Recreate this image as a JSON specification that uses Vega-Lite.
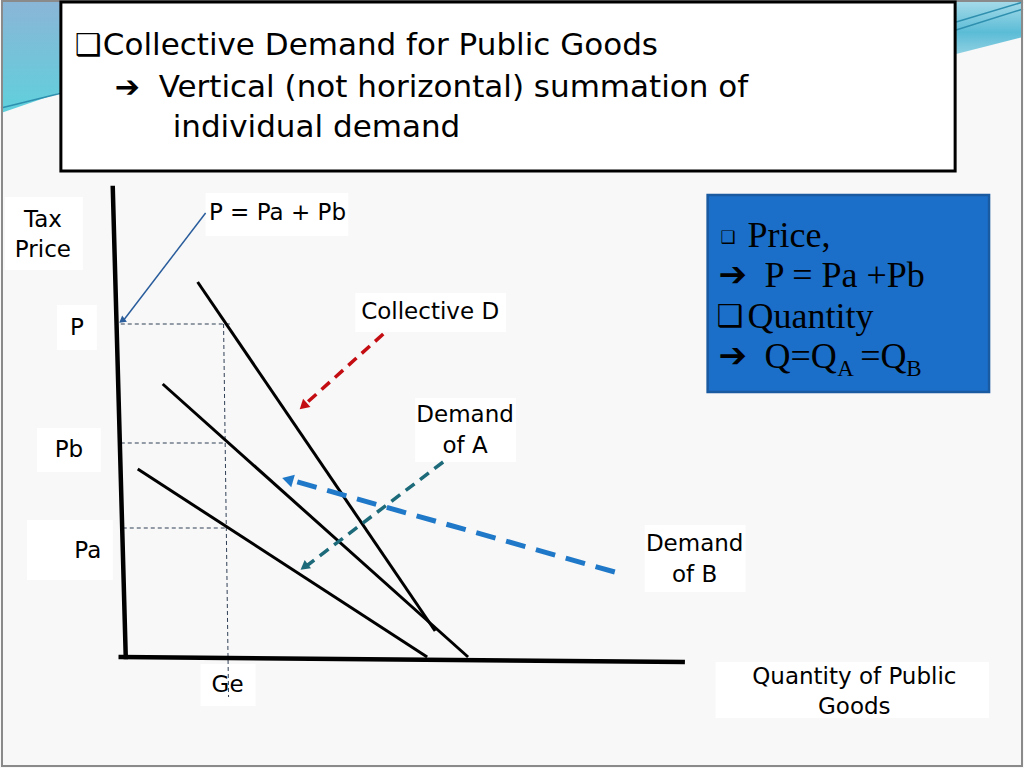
{
  "$schema": "https://vega.github.io/schema/vega-lite/v6.json",
  "width": 1024,
  "height": 768,
  "autosize": {"type": "fit", "contains": "padding"},
  "padding": 0,
  "background": "#f8f8f8",
  "config": {"view": {"stroke": null}},
  "datasets": {
    "decoTL": [{"x": 0, "y": 0, "y2": 113}, {"x": 61, "y": 0, "y2": 92}],
    "decoTR": [{"x": 957, "y": 0, "y2": 54}, {"x": 1024, "y": 0, "y2": 37}],
    "decoLines": [
      {"x": 957, "y": 22, "x2": 1024, "y2": 2},
      {"x": 957, "y": 30, "x2": 1024, "y2": 9},
      {"x": 0, "y": 108, "x2": 61, "y2": 93}
    ],
    "frame": [{"x": 1, "y": 1, "x2": 1023, "y2": 766}],
    "titleBox": [{"x": 60, "y": 2, "x2": 956, "y2": 171}],
    "blueBox": [{"x": 708, "y": 195, "x2": 990, "y2": 392}],
    "labelBoxes": [
      {"x": 4, "y": 197, "x2": 82, "y2": 270},
      {"x": 205, "y": 193, "x2": 348, "y2": 236},
      {"x": 56, "y": 305, "x2": 96, "y2": 350},
      {"x": 355, "y": 293, "x2": 506, "y2": 332},
      {"x": 415, "y": 398, "x2": 516, "y2": 462},
      {"x": 36, "y": 428, "x2": 100, "y2": 472},
      {"x": 26, "y": 520, "x2": 112, "y2": 580},
      {"x": 645, "y": 525, "x2": 746, "y2": 592},
      {"x": 200, "y": 664, "x2": 255, "y2": 706},
      {"x": 716, "y": 662, "x2": 990, "y2": 718}
    ],
    "axesLines": [
      {"x": 112, "y": 188, "x2": 125, "y2": 657},
      {"x": 120, "y": 657, "x2": 683, "y2": 662}
    ],
    "demandLines": [
      {"curve": "Collective D", "x": 197, "y": 282, "x2": 435, "y2": 631},
      {"curve": "Demand of A", "x": 162, "y": 384, "x2": 468, "y2": 657},
      {"curve": "Demand of B", "x": 137, "y": 469, "x2": 427, "y2": 657}
    ],
    "guides": [
      {"x": 120, "y": 324, "x2": 231, "y2": 324},
      {"x": 223, "y": 324, "x2": 228, "y2": 697},
      {"x": 120, "y": 443, "x2": 224, "y2": 443},
      {"x": 122, "y": 528, "x2": 225, "y2": 528}
    ],
    "arrowThin": [{"x": 205, "y": 213, "x2": 123, "y2": 320}],
    "headThin": [{"x": 122, "y": 320}],
    "arrowRed": [{"x": 383, "y": 334, "x2": 305, "y2": 404}],
    "headRed": [{"x": 304, "y": 405}],
    "arrowTeal": [{"x": 443, "y": 462, "x2": 306, "y2": 566}],
    "headTeal": [{"x": 305, "y": 566}],
    "arrowBlue": [{"x": 615, "y": 572, "x2": 290, "y2": 480}],
    "headBlue": [{"x": 289, "y": 480}],
    "titleSym": [
      {"x": 74, "y": 46, "text": "❑"},
      {"x": 114, "y": 88, "text": "➔"}
    ],
    "titleText": [
      {"x": 102, "y": 46, "text": "Collective Demand for Public Goods"},
      {"x": 158, "y": 88, "text": "Vertical (not horizontal) summation of"},
      {"x": 172, "y": 128, "text": "individual demand"}
    ],
    "labels": [
      {"x": 42, "y": 220, "text": "Tax"},
      {"x": 42, "y": 250, "text": "Price"},
      {"x": 277, "y": 213, "text": "P = Pa + Pb"},
      {"x": 76, "y": 328, "text": "P"},
      {"x": 430, "y": 312, "text": "Collective D"},
      {"x": 465, "y": 415, "text": "Demand"},
      {"x": 465, "y": 446, "text": "of A"},
      {"x": 68, "y": 450, "text": "Pb"},
      {"x": 87, "y": 551, "text": "Pa"},
      {"x": 695, "y": 544, "text": "Demand"},
      {"x": 695, "y": 575, "text": "of B"},
      {"x": 227, "y": 685, "text": "Ge"},
      {"x": 855, "y": 677, "text": "Quantity of Public"},
      {"x": 855, "y": 707, "text": "Goods"}
    ],
    "boxSerif": [
      {"x": 748, "y": 236, "text": "Price,"},
      {"x": 765, "y": 276, "text": "P = Pa +Pb"},
      {"x": 748, "y": 317, "text": "Quantity"},
      {"x": 765, "y": 357, "text": "Q=Q"},
      {"x": 861, "y": 357, "text": "=Q"}
    ],
    "boxSub": [
      {"x": 838, "y": 369, "text": "A"},
      {"x": 907, "y": 369, "text": "B"}
    ],
    "boxSmallSym": [{"x": 721, "y": 238, "text": "❑"}],
    "boxBigSym": [
      {"x": 717, "y": 317, "text": "❑"}
    ],
    "boxArrows": [
      {"x": 719, "y": 276, "text": "➔"},
      {"x": 719, "y": 357, "text": "➔"}
    ]
  },
  "encoding": {
    "x": {"field": "x", "type": "quantitative", "scale": {"domain": [0, 1024], "nice": false, "zero": false}, "axis": null},
    "y": {"field": "y", "type": "quantitative", "scale": {"domain": [0, 768], "nice": false, "zero": false, "reverse": true}, "axis": null}
  },
  "layer": [
    {
      "data": {"name": "decoTL"},
      "mark": {"type": "area", "fill": {"gradient": "linear", "x1": 0, "y1": 0, "x2": 0, "y2": 1, "stops": [{"offset": 0, "color": "#8bb5d6"}, {"offset": 1, "color": "#5fd0dc"}]}},
      "encoding": {"y2": {"field": "y2"}}
    },
    {
      "data": {"name": "decoTR"},
      "mark": {"type": "area", "fill": {"gradient": "linear", "x1": 0, "y1": 0, "x2": 0, "y2": 1, "stops": [{"offset": 0, "color": "#a9dcea"}, {"offset": 0.6, "color": "#5bbcd6"}, {"offset": 1, "color": "#8fd0e2"}]}},
      "encoding": {"y2": {"field": "y2"}}
    },
    {
      "data": {"name": "decoLines"},
      "mark": {"type": "rule", "color": "#2e8fae", "strokeWidth": 1.5},
      "encoding": {"x2": {"field": "x2"}, "y2": {"field": "y2"}}
    },
    {
      "data": {"name": "frame"},
      "mark": {"type": "rect", "fill": null, "stroke": "#8a8a8a", "strokeWidth": 2},
      "encoding": {"x2": {"field": "x2"}, "y2": {"field": "y2"}}
    },
    {
      "data": {"name": "titleBox"},
      "mark": {"type": "rect", "fill": "#ffffff", "stroke": "#000000", "strokeWidth": 3},
      "encoding": {"x2": {"field": "x2"}, "y2": {"field": "y2"}}
    },
    {
      "data": {"name": "blueBox"},
      "mark": {"type": "rect", "fill": "#1b6fc8", "stroke": "#1a5aa0", "strokeWidth": 2.5},
      "encoding": {"x2": {"field": "x2"}, "y2": {"field": "y2"}}
    },
    {
      "data": {"name": "labelBoxes"},
      "mark": {"type": "rect", "fill": "#ffffff"},
      "encoding": {"x2": {"field": "x2"}, "y2": {"field": "y2"}}
    },
    {
      "data": {"name": "guides"},
      "mark": {"type": "rule", "color": "#2f3f55", "strokeWidth": 1, "strokeDash": [4, 3]},
      "encoding": {"x2": {"field": "x2"}, "y2": {"field": "y2"}}
    },
    {
      "data": {"name": "axesLines"},
      "mark": {"type": "rule", "color": "#000000", "strokeWidth": 4.5, "strokeCap": "square"},
      "encoding": {"x2": {"field": "x2"}, "y2": {"field": "y2"}}
    },
    {
      "data": {"name": "demandLines"},
      "mark": {"type": "rule", "color": "#000000", "strokeWidth": 3},
      "encoding": {"x2": {"field": "x2"}, "y2": {"field": "y2"}}
    },
    {
      "data": {"name": "arrowThin"},
      "mark": {"type": "rule", "color": "#2a5d9c", "strokeWidth": 1.5},
      "encoding": {"x2": {"field": "x2"}, "y2": {"field": "y2"}}
    },
    {
      "data": {"name": "headThin"},
      "mark": {"type": "point", "shape": "triangle", "filled": true, "color": "#2a5d9c", "size": 60, "opacity": 1},
      "encoding": {"angle": {"value": 232}}
    },
    {
      "data": {"name": "arrowRed"},
      "mark": {"type": "rule", "color": "#c40d12", "strokeWidth": 3.5, "strokeDash": [11, 7]},
      "encoding": {"x2": {"field": "x2"}, "y2": {"field": "y2"}}
    },
    {
      "data": {"name": "headRed"},
      "mark": {"type": "point", "shape": "triangle", "filled": true, "color": "#c40d12", "size": 120, "opacity": 1},
      "encoding": {"angle": {"value": 228}}
    },
    {
      "data": {"name": "arrowTeal"},
      "mark": {"type": "rule", "color": "#1d6b7a", "strokeWidth": 3.5, "strokeDash": [11, 7]},
      "encoding": {"x2": {"field": "x2"}, "y2": {"field": "y2"}}
    },
    {
      "data": {"name": "headTeal"},
      "mark": {"type": "point", "shape": "triangle", "filled": true, "color": "#1d6b7a", "size": 110, "opacity": 1},
      "encoding": {"angle": {"value": 233}}
    },
    {
      "data": {"name": "arrowBlue"},
      "mark": {"type": "rule", "color": "#1f78c8", "strokeWidth": 5, "strokeDash": [20, 11]},
      "encoding": {"x2": {"field": "x2"}, "y2": {"field": "y2"}}
    },
    {
      "data": {"name": "headBlue"},
      "mark": {"type": "point", "shape": "triangle", "filled": true, "color": "#1f78c8", "size": 170, "opacity": 1},
      "encoding": {"angle": {"value": 286}}
    },
    {
      "data": {"name": "titleSym"},
      "mark": {"type": "text", "font": "DejaVu Sans", "fontSize": 30, "fontWeight": "bold", "align": "left", "baseline": "middle", "color": "#000000"},
      "encoding": {"text": {"field": "text"}}
    },
    {
      "data": {"name": "titleText"},
      "mark": {"type": "text", "font": "DejaVu Sans", "fontSize": 31, "align": "left", "baseline": "middle", "color": "#000000"},
      "encoding": {"text": {"field": "text"}}
    },
    {
      "data": {"name": "labels"},
      "mark": {"type": "text", "font": "DejaVu Sans", "fontSize": 23, "align": "center", "baseline": "middle", "color": "#000000"},
      "encoding": {"text": {"field": "text"}}
    },
    {
      "data": {"name": "boxSerif"},
      "mark": {"type": "text", "font": "Liberation Serif", "fontSize": 36, "align": "left", "baseline": "middle", "color": "#000000"},
      "encoding": {"text": {"field": "text"}}
    },
    {
      "data": {"name": "boxSub"},
      "mark": {"type": "text", "font": "Liberation Serif", "fontSize": 23, "align": "left", "baseline": "middle", "color": "#000000"},
      "encoding": {"text": {"field": "text"}}
    },
    {
      "data": {"name": "boxSmallSym"},
      "mark": {"type": "text", "font": "DejaVu Sans", "fontSize": 17, "fontWeight": "bold", "align": "left", "baseline": "middle", "color": "#000000"},
      "encoding": {"text": {"field": "text"}}
    },
    {
      "data": {"name": "boxBigSym"},
      "mark": {"type": "text", "font": "DejaVu Sans", "fontSize": 30, "fontWeight": "bold", "align": "left", "baseline": "middle", "color": "#000000"},
      "encoding": {"text": {"field": "text"}}
    },
    {
      "data": {"name": "boxArrows"},
      "mark": {"type": "text", "font": "DejaVu Sans", "fontSize": 34, "fontWeight": "bold", "align": "left", "baseline": "middle", "color": "#000000"},
      "encoding": {"text": {"field": "text"}}
    }
  ]
}
